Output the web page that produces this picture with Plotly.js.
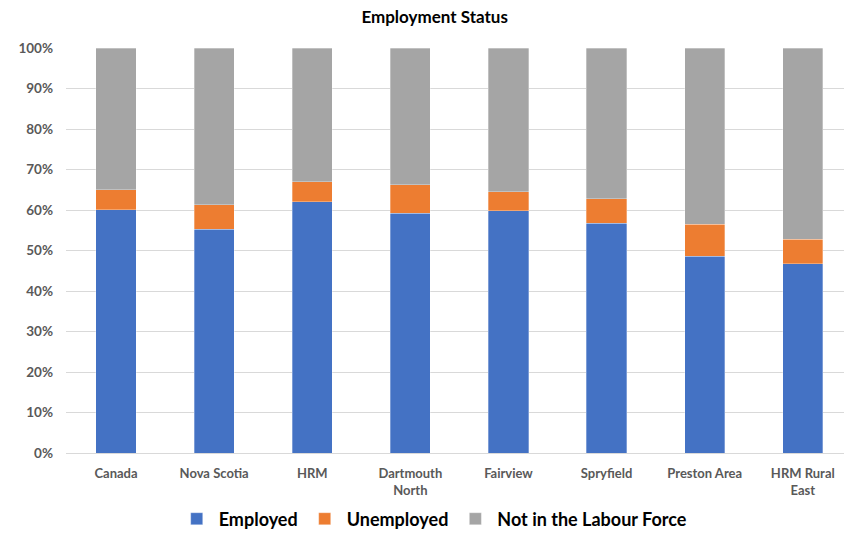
<!DOCTYPE html>
<html><head><meta charset="utf-8">
<script src="https://cdn.plot.ly/plotly-3.0.1.min.js"></script>
<style>html,body{margin:0;padding:0;background:#fff}#chart{width:844px;height:534px}</style>
</head><body><div id="chart"></div>
<script>
const categories = ["Canada", "Nova Scotia", "HRM", "Dartmouth<br>North", "Fairview", "Spryfield", "Preston Area", "HRM Rural<br>East"];
const employed = [60.1, 55.2, 62.0, 59.2, 59.8, 56.7, 48.6, 46.7];
const unemployed = [4.9, 6.1, 5.0, 7.0, 4.7, 6.1, 7.9, 6.1];
const notInLabourForce = [35.0, 38.7, 33.0, 33.8, 35.5, 37.2, 43.5, 47.2];
const yTicks = [0, 10, 20, 30, 40, 50, 60, 70, 80, 90, 100];

const font = "Lato, 'Open Sans', sans-serif";
function trace(name, vals, color) {
  return {type: "bar", name: name, x: categories.map((c, i) => i), y: vals, width: 0.41,
    marker: {color: color, line: {color: "rgba(255,255,255,0.6)", width: 0.5}},
    hoverinfo: "skip"};
}
const data = [
  trace("Employed", employed, "#4472C4"),
  trace("Unemployed", unemployed, "#ED7D31"),
  trace("Not in the Labour Force", notInLabourForce, "#A5A5A5")
];
const layout = {
  width: 844, height: 534,
  margin: {l: 66, r: 0, t: 48, b: 81, pad: 0},
  barmode: "stack",
  paper_bgcolor: "#fff", plot_bgcolor: "#fff",
  title: {text: "<b>Employment Status</b>", x: 0.515, xanchor: "center", y: 0.968, yanchor: "middle",
    font: {family: font, size: 17, color: "#000"}, automargin: false},
  xaxis: {range: [-0.51, 7.42], tickvals: categories.map((c, i) => i), ticktext: categories,
    tickfont: {family: font, size: 13, color: "#595959", weight: "bold"}, showgrid: false,
    showline: false, ticks: "", ticklen: 0, ticklabelstandoff: 11, fixedrange: true, automargin: false},
  yaxis: {range: [0, 100], tickvals: yTicks, ticktext: yTicks.map(v => v + "%"),
    tickfont: {family: font, size: 13.5, color: "#595959", weight: "bold"},
    gridcolor: "#D9D9D9", gridwidth: 1, zeroline: true, zerolinecolor: "#D9D9D9", zerolinewidth: 1,
    showline: false, ticks: "", ticklabelstandoff: 12, automargin: false},
  legend: {orientation: "h", xref: "paper", x: 0.472, xanchor: "center",
    yref: "container", y: 0.028, yanchor: "middle",
    font: {family: font, size: 18, color: "#000", weight: "bold"}, traceorder: "normal",
    itemwidth: 34, tracegroupgap: 0},
  showlegend: true
};
Plotly.newPlot("chart", data, layout, {displayModeBar: false, staticPlot: true});
</script></body></html>
